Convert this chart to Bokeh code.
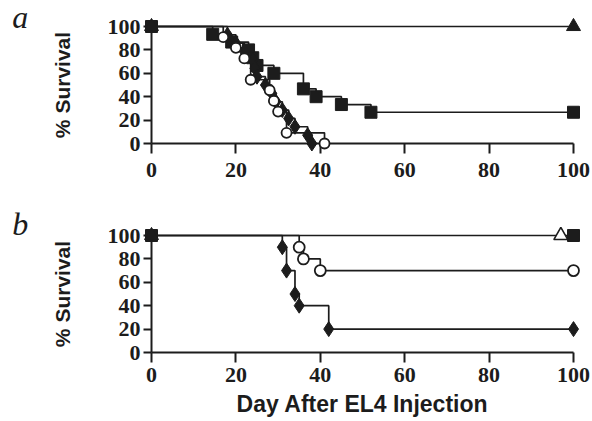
from bokeh.plotting import figure
from bokeh.layouts import column
from bokeh.models import FixedTicker
from bokeh.core.properties import value
from bokeh.embed import file_html
from bokeh.resources import INLINE

# ---- data: panel a ----
a_sq_day = [0, 14.5, 19, 23, 24, 25, 29, 36, 39, 45, 52, 100]
a_sq_surv = [100, 93.3, 86.7, 80, 73.3, 66.7, 60, 46.7, 40, 33.3, 26.7, 26.7]
a_ci_day = [0, 17, 20, 22, 23.5, 28, 29, 30, 32, 41]
a_ci_surv = [100, 90.9, 81.8, 72.7, 54.5, 45.5, 36.4, 27.3, 9.1, 0]
a_di_day = [0, 18, 20, 22, 24, 24.5, 25, 27, 28.5, 29.5, 31, 32.5, 34, 37, 38]
a_di_surv = [100, 92.9, 85.7, 78.6, 71.4, 64.3, 57.1, 50, 42.9, 35.7, 28.6, 21.4, 14.3, 7.1, 0]
a_tr_day = [0, 100]
a_tr_surv = [100, 100]

# ---- data: panel b ----
b_sq_day = [0, 100]
b_sq_surv = [100, 100]
b_ci_day = [0, 35, 36, 40, 100]
b_ci_surv = [100, 90, 80, 70, 70]
b_di_day = [0, 31, 32, 34, 35, 42, 100]
b_di_surv = [100, 90, 70, 50, 40, 20, 20]
b_to_day = [97]
b_to_surv = [100]
b_tr_day = [0]
b_tr_surv = [100]

ticks = [0, 20, 40, 60, 80, 100]
panel_letters = ["a", "b"]
INK = "#1c1c1c"


def make_fig(height, top, bottom, xlabel, xstandoff):
    p = figure(width=592, height=height, x_range=(0, 100), y_range=(0, 100),
               output_backend="svg", toolbar_location=None,
               min_border_left=151, min_border_right=19,
               min_border_top=top, min_border_bottom=bottom)
    p.outline_line_color = None
    p.grid.visible = False
    for ax in (p.xaxis[0], p.yaxis[0]):
        ax.ticker = FixedTicker(ticks=ticks)
        ax.axis_line_width = 2
        ax.axis_line_color = INK
        ax.major_tick_line_width = 2
        ax.major_tick_line_color = INK
        ax.major_tick_in = 0
        ax.minor_tick_line_color = None
        ax.major_label_text_font = "Liberation Serif"
        ax.major_label_text_font_style = "bold"
        ax.major_label_text_font_size = "22px"
        ax.major_label_text_color = INK
        ax.axis_label_text_font = "Liberation Sans"
        ax.axis_label_text_font_style = "bold"
        ax.axis_label_text_color = INK
    p.yaxis.major_tick_out = 8
    p.yaxis.major_label_standoff = 3
    p.yaxis.axis_label = "% Survival"
    p.yaxis.axis_label_text_font_size = "21px"
    p.yaxis.axis_label_standoff = 31
    p.xaxis.major_tick_out = 10
    p.xaxis.major_label_standoff = xstandoff
    if xlabel:
        p.xaxis.axis_label = xlabel
        p.xaxis.axis_label_text_font_size = "23px"
        p.xaxis.axis_label_standoff = 6
    return p


def steps(p, x, y):
    p.step(x, y, mode="after", line_color=INK, line_width=1.7, level="overlay")


def letter(p, t, x, y):
    p.text(x=[x], y=[y], text=[t], text_font=value("Liberation Serif"),
           text_font_style="italic", text_font_size="32px", text_color=INK,
           text_baseline="alphabetic", text_align="left", level="overlay")


pa = make_fig(200, 26, 57, None, 9)
steps(pa, a_tr_day, a_tr_surv)
steps(pa, a_sq_day, a_sq_surv)
steps(pa, a_ci_day, a_ci_surv)
steps(pa, a_di_day, a_di_surv)
pa.scatter(a_sq_day, a_sq_surv, marker="square", size=12, fill_color=INK, line_color=INK, level="overlay")
pa.scatter(a_di_day[1:], a_di_surv[1:], marker="diamond", size=15, fill_color=INK, line_color=INK, level="overlay")
pa.scatter(a_ci_day[1:], a_ci_surv[1:], marker="circle", size=10, fill_color="white", line_color=INK, line_width=1.8, level="overlay")
pa.scatter(a_tr_day, a_tr_surv, marker="triangle", size=14, fill_color=INK, line_color=INK, level="overlay")
letter(pa, panel_letters[0], -33, 108)

pb = make_fig(221, 35, 69, "Day After EL4 Injection", 5)
steps(pb, b_sq_day, b_sq_surv)
steps(pb, b_ci_day, b_ci_surv)
steps(pb, b_di_day, b_di_surv)
pb.scatter(b_sq_day, b_sq_surv, marker="square", size=12, fill_color=INK, line_color=INK, level="overlay")
pb.scatter(b_di_day[1:], b_di_surv[1:], marker="diamond", size=15, fill_color=INK, line_color=INK, level="overlay")
pb.scatter(b_ci_day[1:], b_ci_surv[1:], marker="circle", size=11, fill_color="white", line_color=INK, line_width=1.8, level="overlay")
pb.scatter(b_to_day, b_to_surv, marker="triangle", size=14, fill_color="white", line_color=INK, line_width=1.6, level="overlay")
pb.scatter(b_tr_day, b_tr_surv, marker="triangle", size=14, fill_color=INK, line_color=INK, level="overlay")
letter(pb, panel_letters[1], -33, 110)

layout = column(pa, pb, spacing=0)
open("out.html", "w").write(file_html(layout, INLINE))
